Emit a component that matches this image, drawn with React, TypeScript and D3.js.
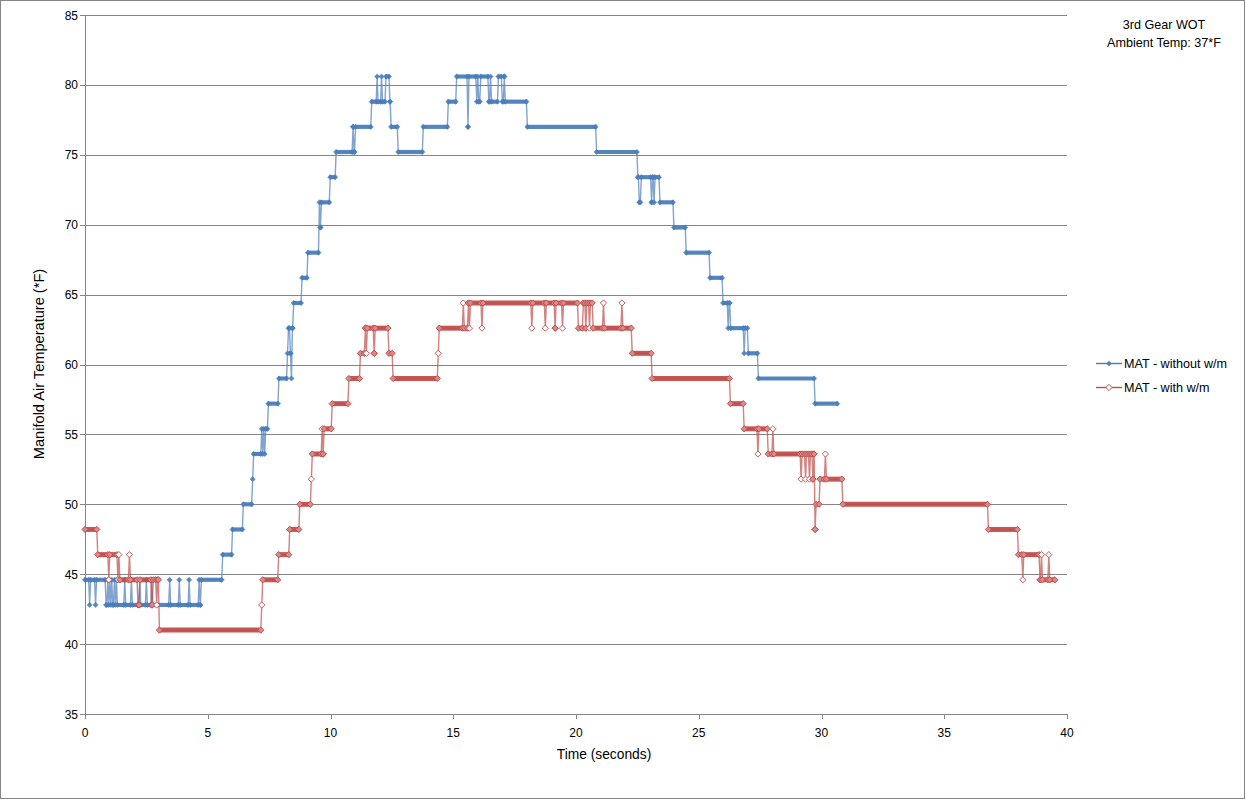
import React from "react";
import * as d3 from "d3";

// Change points: [time (s), MAT (°F)] — each value is held until the next change.
const blueChanges: [number, number][] = [
  [0, 44.6], [0.19, 42.8], [0.23, 44.6], [0.43, 42.8], [0.47, 44.6], [0.86, 42.8], [0.93, 44.6],
  [0.97, 42.8], [1.01, 44.6], [1.05, 42.8], [1.09, 44.6], [1.13, 42.8], [1.2, 44.6], [1.24, 42.8],
  [1.28, 44.6], [1.32, 42.8], [1.62, 44.6], [1.66, 42.8], [1.89, 44.6], [1.93, 42.8], [2.23, 44.6],
  [2.27, 42.8], [2.5, 44.6], [2.54, 42.8], [2.72, 44.6], [2.76, 42.8], [3.45, 44.6], [3.49, 42.8],
  [3.84, 44.6], [3.88, 42.8], [4.24, 44.6], [4.28, 42.8], [4.65, 44.6], [4.69, 42.8], [4.74, 44.6],
  [5.61, 46.4], [6.01, 48.2], [6.45, 50.0], [6.83, 51.8], [6.87, 53.6], [7.2, 55.4], [7.24, 53.6],
  [7.28, 55.4], [7.32, 53.6], [7.36, 55.4], [7.47, 57.2], [7.9, 59.0], [8.25, 60.8], [8.29, 62.6],
  [8.37, 60.8], [8.41, 59.0], [8.45, 62.6], [8.5, 64.4], [8.84, 66.2], [9.08, 68.0], [9.55, 71.6],
  [9.59, 69.8], [9.63, 71.6], [9.99, 73.4], [10.23, 75.2], [10.92, 77.0], [10.96, 75.2], [11.02, 77.0],
  [11.68, 78.8], [11.9, 80.6], [11.94, 78.8], [12.08, 80.6], [12.12, 78.8], [12.26, 80.6], [12.42, 78.8],
  [12.47, 77.0], [12.76, 75.2], [13.78, 77.0], [14.8, 78.8], [15.14, 80.6], [15.6, 77.0], [15.64, 80.6],
  [15.96, 78.8], [16.0, 80.6], [16.04, 78.8], [16.12, 80.6], [16.45, 78.8], [16.52, 80.6], [16.56, 78.8],
  [16.84, 80.6], [17.0, 78.8], [17.08, 80.6], [17.12, 78.8], [18.02, 77.0], [20.84, 75.2], [22.52, 73.4],
  [22.58, 71.6], [22.66, 73.4], [23.08, 71.6], [23.12, 73.4], [23.18, 71.6], [23.22, 73.4], [23.42, 71.6],
  [23.99, 69.8], [24.49, 68.0], [25.46, 66.2], [25.99, 64.4], [26.2, 62.6], [26.24, 64.4], [26.3, 62.6],
  [26.85, 60.8], [26.89, 62.6], [27.02, 60.8], [27.43, 59.0], [29.74, 57.2],
];
const blueEnd = 30.64;

const redChanges: [number, number][] = [
  [0, 48.2], [0.52, 46.4], [0.97, 44.6], [1.01, 46.4], [1.34, 44.6], [1.38, 46.4], [1.42, 44.6],
  [1.81, 46.4], [1.85, 44.6], [2.16, 42.8], [2.24, 44.6], [2.72, 42.8], [2.78, 44.6], [2.92, 42.8],
  [2.96, 44.6], [3.03, 41.0], [7.2, 42.8], [7.24, 44.6], [7.89, 46.4], [8.34, 48.2], [8.75, 50.0],
  [9.22, 51.8], [9.26, 53.6], [9.66, 55.4], [9.7, 53.6], [9.74, 55.4], [10.07, 57.2], [10.75, 59.0],
  [11.22, 60.8], [11.42, 62.6], [11.46, 60.8], [11.5, 62.6], [11.78, 60.8], [11.82, 62.6], [12.38, 60.8],
  [12.55, 59.0], [14.39, 60.8], [14.43, 62.6], [15.41, 64.4], [15.45, 62.6], [15.62, 64.4], [15.66, 62.6],
  [15.7, 64.4], [16.17, 62.6], [16.21, 64.4], [18.2, 62.6], [18.24, 64.4], [18.75, 62.6], [18.79, 64.4],
  [19.15, 62.6], [19.19, 64.4], [19.45, 62.6], [19.49, 64.4], [20.1, 62.6], [20.3, 64.4], [20.4, 62.6],
  [20.44, 64.4], [20.55, 62.6], [20.59, 64.4], [20.7, 62.6], [21.12, 64.4], [21.16, 62.6], [21.87, 64.4],
  [21.91, 62.6], [22.29, 60.8], [23.1, 59.0], [26.29, 57.2], [26.85, 55.4], [27.41, 53.6], [27.45, 55.4],
  [27.83, 53.6], [28.02, 55.4], [28.06, 53.6], [29.17, 51.8], [29.21, 53.6], [29.35, 51.8], [29.39, 53.6],
  [29.51, 51.8], [29.55, 53.6], [29.65, 51.8], [29.69, 53.6], [29.74, 48.2], [29.78, 50.0], [29.94, 51.8],
  [30.16, 53.6], [30.2, 51.8], [30.87, 50.0], [36.8, 48.2], [38.02, 46.4], [38.2, 44.6], [38.24, 46.4],
  [38.9, 44.6], [38.96, 46.4], [39.0, 44.6], [39.26, 46.4], [39.3, 44.6],
];
const redEnd = 39.51;

const xTicks = [0, 5, 10, 15, 20, 25, 30, 35, 40];
const yTicks = [35, 40, 45, 50, 55, 60, 65, 70, 75, 80, 85];
const seriesNames = ["MAT - without w/m", "MAT - with w/m"];
const annotation = ["3rd Gear WOT", "Ambient Temp: 37*F"];

const W = 1246;
const H = 800;
const FONT = "'Liberation Sans', Arial, sans-serif";
const BLUE = "#4A7EBB";
const RED = "#BE4B48";
const GRID = "#868686";
const DT = 0.04; // sample spacing

type Run = { t0: number; t1: number; v: number };

function toRuns(ch: [number, number][], end: number): Run[] {
  return ch.map(([t, v], i) => {
    const next = i + 1 < ch.length ? ch[i + 1][0] : end + DT;
    return { t0: t, t1: Math.max(t, next - DT), v };
  });
}

export default function App() {
  const x = d3.scaleLinear().domain([0, 40]).range([85, 1067]);
  const y = d3.scaleLinear().domain([35, 85]).range([714, 15]);

  const series = [
    { runs: toRuns(blueChanges, blueEnd), color: BLUE, marker: "filled" },
    { runs: toRuns(redChanges, redEnd), color: RED, marker: "hollow" },
  ];

  const line = d3
    .line<[number, number]>()
    .x((d) => x(d[0]))
    .y((d) => y(d[1]));

  const diamond = (cx: number, cy: number, r: number) =>
    `M${cx},${cy - r}L${cx + r},${cy}L${cx},${cy + r}L${cx - r},${cy}Z`;

  const renderMarker = (cx: number, cy: number, kind: string, color: string, key: string, solid = false) =>
    kind === "filled" ? (
      <path key={key} d={diamond(cx, cy, 2.6)} fill={color} stroke={color} strokeWidth={0.6} opacity={0.9} />
    ) : (
      <path key={key} d={diamond(cx, cy, 3.1)} fill={solid ? "#d98a88" : "#fff"} stroke={color} strokeWidth={0.9} />
    );

  return (
    <svg
      width={W}
      height={H}
      style={{ position: "absolute", left: 0, top: 0, background: "#fff" }}
      fontFamily={FONT}
    >
      <rect x={0.5} y={0.5} width={W - 2} height={H - 2} fill="#fff" stroke={GRID} strokeWidth={1} />

      {/* gridlines */}
      {yTicks.map((t) => (
        <line key={"g" + t} x1={85} x2={1067} y1={Math.round(y(t)) + 0.5} y2={Math.round(y(t)) + 0.5} stroke={GRID} strokeWidth={1} />
      ))}
      {/* y axis */}
      <line x1={85.5} x2={85.5} y1={15} y2={714.5} stroke={GRID} strokeWidth={1} />
      {yTicks.map((t) => (
        <g key={"yt" + t}>
          <line x1={80} x2={85} y1={Math.round(y(t)) + 0.5} y2={Math.round(y(t)) + 0.5} stroke={GRID} />
          <text x={78} y={y(t) + 4.5} textAnchor="end" fontSize={12} fill="#000">
            {t}
          </text>
        </g>
      ))}
      {/* x axis ticks */}
      {xTicks.map((t) => (
        <g key={"xt" + t}>
          <line x1={Math.round(x(t)) + 0.5} x2={Math.round(x(t)) + 0.5} y1={714} y2={719} stroke={GRID} />
          <text x={x(t)} y={737} textAnchor="middle" fontSize={12} fill="#000">
            {t}
          </text>
        </g>
      ))}

      <text x={604} y={759} textAnchor="middle" fontSize={13.8} fill="#000">
        Time (seconds)
      </text>
      <text
        transform={`translate(44,364) rotate(-90)`}
        textAnchor="middle"
        fontSize={14.6}
        fill="#000"
      >
        Manifold Air Temperature (*F)
      </text>

      {/* series */}
      {series.map((s, si) => {
        const pts: [number, number][] = [];
        s.runs.forEach((r) => {
          pts.push([r.t0, r.v]);
          if (r.t1 > r.t0) pts.push([r.t1, r.v]);
        });
        return (
          <g key={"s" + si}>
            <path d={line(pts) || ""} fill="none" stroke={s.color} strokeWidth={1.4} strokeOpacity={0.7} />
            {s.runs
              .filter((r) => r.t1 > r.t0)
              .map((r, i) => (
                <line
                  key={"b" + i}
                  x1={x(r.t0) - 1}
                  x2={x(r.t1) + 1}
                  y1={y(r.v)}
                  y2={y(r.v)}
                  stroke={s.color}
                  strokeWidth={s.marker === "filled" ? 4.2 : 5}
                  strokeOpacity={0.92}
                />
              ))}
            {s.runs.map((r, i) =>
              r.t1 > r.t0 ? (
                <g key={"m" + i}>
                  {renderMarker(x(r.t0), y(r.v), s.marker, s.color, "a", true)}
                  {renderMarker(x(r.t1), y(r.v), s.marker, s.color, "b", true)}
                </g>
              ) : (
                renderMarker(x(r.t0), y(r.v), s.marker, s.color, "m" + i)
              )
            )}
          </g>
        );
      })}

      {/* legend */}
      {seriesNames.map((n, i) => {
        const ly = 363 + i * 24;
        const s = series[i];
        return (
          <g key={"l" + i}>
            <line x1={1096} x2={1122} y1={ly + 0.5} y2={ly + 0.5} stroke={s.color} strokeWidth={1.4} />
            {renderMarker(1109, ly + 0.5, s.marker, s.color, "lm" + i)}
            <text x={1124} y={ly + 4.5} fontSize={12.6} fill="#000">
              {n}
            </text>
          </g>
        );
      })}

      {/* annotation */}
      {annotation.map((a, i) => (
        <text key={"an" + i} x={1164} y={29 + i * 18} textAnchor="middle" fontSize={12.6} fill="#000">
          {a}
        </text>
      ))}
    </svg>
  );
}
